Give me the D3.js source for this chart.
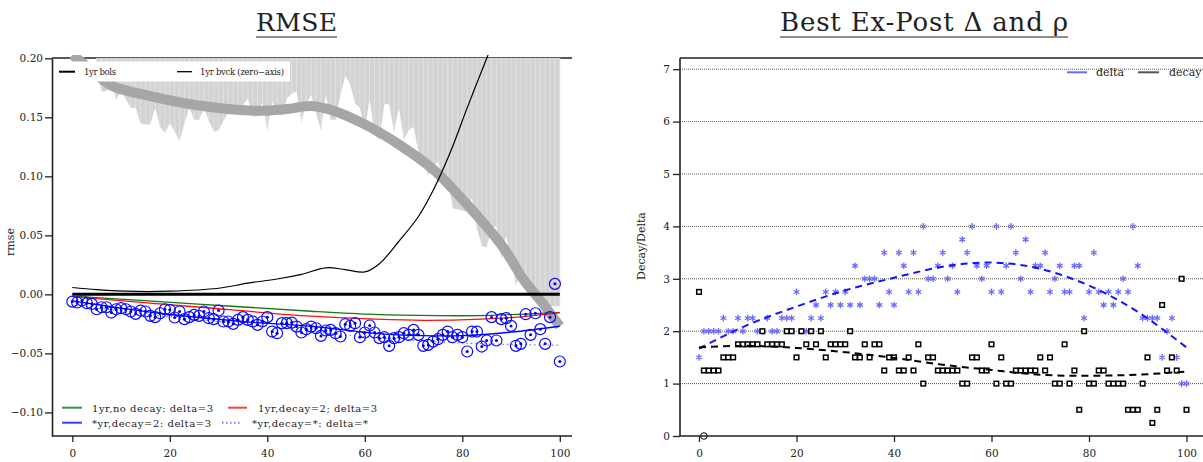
<!DOCTYPE html>
<html><head><meta charset="utf-8">
<script src="https://cdn.jsdelivr.net/npm/d3@7"></script>
<style>
body{margin:0;background:#fff}
svg{display:block}
text{font-family:"DejaVu Serif",serif;fill:#222}
</style>
</head><body><svg id="c" width="1203" height="462"></svg>
<script>
// ---------------- DATA ----------------
const horizon = d3.range(0, 101);               // x categories 0..100
const xTicks = [0, 20, 40, 60, 80, 100];
const rmseTicks = [-0.10, -0.05, 0.00, 0.05, 0.10, 0.15, 0.20];
const paramTicks = [0, 1, 2, 3, 4, 5, 6, 7];

// star-yr rmse points (blue circles)
const starYrRmse = [
 -0.0061,-0.0069,-0.0052,-0.0075,-0.0081,-0.0126,-0.0109,-0.0109,-0.0154,-0.0126,
 -0.0117,-0.0126,-0.0145,-0.0165,-0.0137,-0.0145,-0.0182,-0.0193,-0.0160,-0.0126,
 -0.0131,-0.0196,-0.0145,-0.0210,-0.0193,-0.0174,-0.0182,-0.0145,-0.0202,-0.0210,
 -0.0137,-0.0230,-0.0230,-0.0250,-0.0216,-0.0193,-0.0216,-0.0230,-0.0258,-0.0230,
 -0.0193,-0.0315,-0.0329,-0.0244,-0.0244,-0.0239,-0.0273,-0.0323,-0.0295,-0.0273,
 -0.0287,-0.0352,-0.0306,-0.0301,-0.0329,-0.0357,-0.0253,-0.0267,-0.0244,-0.0363,
 -0.0323,-0.0264,-0.0323,-0.0371,-0.0363,-0.0436,-0.0371,-0.0363,-0.0329,-0.0343,
 -0.0301,-0.0343,-0.0436,-0.0428,-0.0400,-0.0380,-0.0343,-0.0315,-0.0363,-0.0343,
 -0.0363,-0.0484,-0.0315,-0.0315,-0.0442,-0.0391,-0.0193,-0.0391,-0.0210,-0.0202,
 -0.0267,-0.0436,-0.0419,-0.0168,-0.0343,-0.0160,-0.0295,-0.0419,-0.0193, 0.0089,
 -0.0569];

// 1yr bvck band (shaded, hangs from top)
const bandX = d3.range(5, 101);
const bandV = [
 0.190,0.172,0.172,0.179,0.165,0.172,0.165,0.158,0.158,0.145,0.144,0.144,0.158,0.142,0.137,
 0.145,0.138,0.130,0.145,0.158,0.148,0.148,0.158,0.147,0.138,0.139,0.147,0.154,0.155,0.155,
 0.160,0.166,0.151,0.151,0.163,0.139,0.163,0.157,0.151,0.166,0.170,0.172,0.146,0.162,0.169,
 0.154,0.139,0.169,0.148,0.148,0.169,0.185,0.178,0.162,0.158,0.139,0.166,0.135,0.131,0.161,
 0.161,0.138,0.158,0.131,0.139,0.142,0.121,0.111,0.101,0.107,0.113,0.098,0.100,0.073,0.072,
 0.071,0.070,0.082,0.056,0.041,0.040,0.056,0.058,0.031,0.050,0.030,0.008,0.017,0.019,0.005,
 0.000,-0.005,-0.008,-0.010,-0.010,-0.010];

// thick gray smooth line
const grayX = [0,4,8,16,26,38,44,49,54,60,67,74,81,88,93,96,100];
const grayV = [0.203,0.19,0.177,0.168,0.16,0.1555,0.157,0.1595,0.155,0.144,0.127,0.106,0.076,0.042,0.01,-0.005,-0.027];

// thin black curve (1yr bvck)
const bvckX = [0,5,13,20,30,36,42,47,52,56,60,63,67,71,74,77.5,81,85.3,88];
const bvckV = [0.0058,0.004,0.0025,0.0027,0.0052,0.0095,0.013,0.017,0.0225,0.021,0.019,0.026,0.045,0.066,0.088,0.12,0.158,0.203,0.23];

// smooth fits
const greenX = [0,25,49,62,75,83,100];
const greenV = [-0.0015,-0.008,-0.0143,-0.017,-0.018,-0.018,-0.0155];
const redX = [0,25,49,62,72,84,92,100];
const redV = [-0.002,-0.0105,-0.0185,-0.021,-0.022,-0.021,-0.019,-0.0155];
const blueX = [0,18,38,49,62,72,80,90,100];
const blueV = [-0.0055,-0.016,-0.024,-0.027,-0.033,-0.035,-0.035,-0.032,-0.027];
const dotX = [0,20,40,55,70,85,100];
const dotV = [-0.009,-0.019,-0.027,-0.034,-0.039,-0.042,-0.043];

// right panel
const deltaVals = [
 1.5,2,2,2,2,2.25,2,2,2.25,2, 2.25,2.25,2,2,2.25,2,2,2.25,2.25,2.25,
 2.75,2,2,2.25,2.5,2.25,2.75,2.5,2.75,2.5, 2.75,2.5,3.25,2.5,3,3,3,2.5,3.5,2.75,
 2.5,3.5,3.25,2.75,3.5,2.75,4,3,3,3.25, 3.5,3,3.25,2.75,3.75,3.5,4,3.25,3,3.25,
 2.75,4,2.75,3.25,4,3.5,3,3.75,2.75,3.25, 3.25,3.5,2.75,3,3.25,2.75,2.75,3.25,3.25,2.25,
 2.75,3.5,2.75,2.5,2.75,2.5,2.75,3,2.75,4, 3.25,2.25,2.25,2.25,2.25,1.5,2,2.25,1.5,1,1];
const decayVals = [
 2.75,1.25,1.25,1.25,1.25,1.5,1.5,1.5,1.75,1.75, 1.75,1.75,1.75,2,1.75,1.75,1.75,1.75,2,2,
 1.5,2,1.75,2,1.75,2,1.5,1.75,1.75,1.75, 1.75,2,1.5,1.5,1.75,1.5,1.75,1.75,1.25,1.5,
 1.5,1.25,1.25,1.5,1.25,1.75,1,1.5,1.5,1.25, 1.25,1.25,1.25,1.25,1,1,1.5,1.5,1.25,1.25,
 1.75,1,1.5,1,1,1.25,1.25,1.25,1.25,1.25, 1.5,1.25,1.5,1,1,1.75,1,1.25,0.5,2,
 1,1,1.25,1.25,1,1,1,1,0.5,0.5, 0.5,1,1.5,0.25,0.5,2.5,1.25,1.5,1.25,3,0.5];
const extraX = [1], extraV = [0];
const fitX = [0,10,20,30,40,50,60,70,80,90,100];
const deltaFit = [1.67,2.12,2.47,2.78,3.02,3.23,3.31,3.19,2.87,2.37,1.69];
const decayFit = [1.69,1.72,1.68,1.60,1.49,1.36,1.26,1.17,1.15,1.17,1.23];

// ---------------- DRAW ----------------
const svg = d3.select("#c");
const FS = "10.5px";

// ===== LEFT PANEL =====
const L = {l:52, r:572, t:58, b:436};
const xL = d3.scaleLinear().domain([0,100]).range([72.3,559.8]);
const yL = d3.scaleLinear().domain([-0.12,0.2]).range([436,58.3]);

svg.append("defs").append("clipPath").attr("id","clipL")
  .append("rect").attr("x",L.l).attr("y",55).attr("width",L.r-L.l).attr("height",L.b-55);

svg.append("line").attr("x1",L.l).attr("x2",L.r).attr("y1",L.t).attr("y2",L.t)
  .attr("stroke","#222").attr("stroke-width",1.3);

const pL = svg.append("g").attr("clip-path","url(#clipL)");
pL.append("path").datum(bandX)
  .attr("d", d3.area().x(d=>xL(d)).y0(L.t).y1((d,i)=>yL(bandV[i])))
  .attr("fill","#d3d3d3");
pL.selectAll("line.stripe").data(bandX).join("line").attr("class","stripe")
  .attr("x1",d=>xL(d)).attr("x2",d=>xL(d)).attr("y1",L.t).attr("y2",(d,i)=>yL(bandV[i]))
  .attr("stroke","#e2e2e2").attr("stroke-width",0.9);
const ln = (xs,vs)=>d3.line().x((d,i)=>xL(xs[i])).y((d,i)=>yL(vs[i])).curve(d3.curveCatmullRom)(xs);
pL.append("path").attr("d",ln(grayX,grayV)).attr("fill","none")
  .attr("stroke","#a6a6a6").attr("stroke-width",10);

// top legend box
const tl = svg.append("g");
tl.append("rect").attr("x",53).attr("y",61.5).attr("width",237).attr("height",20).attr("fill","#fff");
tl.append("line").attr("x1",59).attr("x2",75).attr("y1",71.7).attr("y2",71.7).attr("stroke","#000").attr("stroke-width",2);
tl.append("text").attr("x",84).attr("y",74.5).attr("font-size","8.5px").attr("textLength",32).text("1yr bols");
tl.append("line").attr("x1",177).attr("x2",192).attr("y1",71.7).attr("y2",71.7).attr("stroke","#000").attr("stroke-width",1.3);
tl.append("text").attr("x",200).attr("y",74.5).attr("font-size","8.5px").attr("textLength",84).text("1yr bvck (zero\u2212axis)");

pL.append("path").attr("d",ln(bvckX,bvckV)).attr("fill","none").attr("stroke","#000").attr("stroke-width",1.2);
pL.append("line").attr("x1",xL(0)).attr("x2",xL(100)).attr("y1",yL(0)).attr("y2",yL(0))
  .attr("stroke","#000").attr("stroke-width",3);
pL.append("path").attr("d",ln(dotX,dotV)).attr("fill","none").attr("stroke","#7a7aff").attr("stroke-width",1.2).attr("stroke-dasharray","1.5,3");
pL.append("path").attr("d",ln(greenX,greenV)).attr("fill","none").attr("stroke","#167516").attr("stroke-width",1.3);
pL.append("path").attr("d",ln(redX,redV)).attr("fill","none").attr("stroke","#ff1010").attr("stroke-width",1.3);
pL.append("path").attr("d",ln(blueX,blueV)).attr("fill","none").attr("stroke","#0000ff").attr("stroke-width",1.3);
pL.selectAll("circle.pt").data(horizon).join("circle").attr("class","pt")
  .attr("cx",d=>xL(d)).attr("cy",(d,i)=>yL(starYrRmse[i])).attr("r",5.5)
  .attr("fill","none").attr("stroke","#0a0aff").attr("stroke-width",1.2);
pL.selectAll("circle.ctr").data(horizon).join("circle").attr("class","ctr")
  .attr("cx",d=>xL(d)).attr("cy",(d,i)=>yL(starYrRmse[i])).attr("r",1.5)
  .attr("fill","#0000cc");

const axLy = svg.append("g").attr("transform",`translate(${L.l},0)`)
  .call(d3.axisLeft(yL).tickValues(rmseTicks).tickSize(7).tickSizeOuter(0).tickPadding(2).tickFormat(d3.format(".2f")));
const axLx = svg.append("g").attr("transform",`translate(0,${L.b})`)
  .call(d3.axisBottom(xL).tickValues(xTicks).tickSize(6).tickPadding(8).tickFormat(d3.format("d")));
axLx.select(".domain").remove();
svg.append("line").attr("x1",L.l).attr("x2",L.r).attr("y1",L.b).attr("y2",L.b).attr("stroke","#222").attr("stroke-width",1.6);

const bl = svg.append("g");
const leg = [
  {x1:62,x2:82,y:407.7,col:"#3f933f",dash:null,tx:92,tl:121,t:"1yr,no decay: delta=3"},
  {x1:228,x2:247,y:407.7,col:"#ff4040",dash:null,tx:258,tl:119,t:"1yr,decay=2; delta=3"},
  {x1:62,x2:82,y:422.7,col:"#3c3cff",dash:null,tx:92,tl:119,t:"*yr,decay=2: delta=3"},
  {x1:222,x2:240,y:422.7,col:"#7a7aff",dash:"1.5,2.5",tx:252,tl:116,t:"*yr,decay=*: delta=*"}
];
leg.forEach(e=>{
  bl.append("line").attr("x1",e.x1).attr("x2",e.x2).attr("y1",e.y).attr("y2",e.y)
    .attr("stroke",e.col).attr("stroke-width",2).attr("stroke-dasharray",e.dash);
  bl.append("text").attr("x",e.tx).attr("y",e.y+3.8).attr("font-size","10px").attr("textLength",e.tl).text(e.t);
});

svg.append("text").attr("x",256).attr("y",31).attr("font-size","25px").attr("textLength",81).text("RMSE");
svg.append("line").attr("x1",256).attr("x2",337).attr("y1",37).attr("y2",37).attr("stroke","#222").attr("stroke-width",1.2);
svg.append("text").attr("transform","translate(14,242) rotate(-90)").attr("text-anchor","middle").attr("font-size","11px").text("rmse");

// ===== RIGHT PANEL =====
const R = {l:680, r:1203, t:58, b:436};
const xR = d3.scaleLinear().domain([0,100]).range([699,1186.5]);
const yR = d3.scaleLinear().domain([0,7]).range([436,69.2]);

svg.append("line").attr("x1",R.l).attr("x2",R.r).attr("y1",R.t).attr("y2",R.t).attr("stroke","#222").attr("stroke-width",1.3);
svg.selectAll("line.grid").data(paramTicks.slice(1)).join("line").attr("class","grid")
  .attr("x1",R.l).attr("x2",R.r).attr("y1",d=>yR(d)).attr("y2",d=>yR(d))
  .attr("stroke","#555").attr("stroke-width",1).attr("stroke-dasharray","1,1");

const pR = svg.append("g");
const lnR = (vs)=>d3.line().x((d,i)=>xR(fitX[i])).y((d,i)=>yR(vs[i])).curve(d3.curveNatural)(fitX);
const ast = (r)=>{let p="";for(let a=0;a<3;a++){const t=Math.PI/2+a*Math.PI/3;const dx=r*Math.cos(t),dy=r*Math.sin(t);p+=`M${-dx},${-dy}L${dx},${dy}`;}return p;};
pR.selectAll("path.delta").data(horizon).join("path").attr("class","delta")
  .attr("transform",(d,i)=>`translate(${xR(d)},${yR(deltaVals[i])})`)
  .attr("d",ast(3.3)).attr("stroke","#6a6aff").attr("stroke-width",1.3).attr("fill","none");
pR.selectAll("rect.decay").data(horizon).join("rect").attr("class","decay")
  .attr("x",d=>xR(d)-2.3).attr("y",(d,i)=>yR(decayVals[i])-2.3).attr("width",4.6).attr("height",4.6)
  .attr("fill","#fff").attr("stroke","#000").attr("stroke-width",1.5);
pR.selectAll("circle.extra").data(extraX).join("circle").attr("class","extra")
  .attr("cx",d=>xR(d)).attr("cy",(d,i)=>yR(extraV[i])).attr("r",3.3)
  .attr("fill","none").attr("stroke","#000").attr("stroke-width",1);
pR.append("path").attr("d",lnR(deltaFit)).attr("fill","none").attr("stroke","#1414ff").attr("stroke-width",2).attr("stroke-dasharray","7,5");
pR.append("path").attr("d",lnR(decayFit)).attr("fill","none").attr("stroke","#000").attr("stroke-width",2).attr("stroke-dasharray","7,5");

const axRy = svg.append("g").attr("transform",`translate(${R.l},0)`)
  .call(d3.axisLeft(yR).tickValues(paramTicks).tickSize(7).tickSizeOuter(0).tickPadding(3).tickFormat(d3.format("d")));
axRy.select(".domain").remove();
svg.append("line").attr("x1",R.l).attr("x2",R.l).attr("y1",R.t).attr("y2",R.b).attr("stroke","#222").attr("stroke-width",1.6);
const axRx = svg.append("g").attr("transform",`translate(0,${R.b})`)
  .call(d3.axisBottom(xR).tickValues(xTicks).tickSize(6).tickPadding(8).tickFormat(d3.format("d")));
axRx.select(".domain").remove();
svg.append("line").attr("x1",R.l).attr("x2",R.r).attr("y1",R.b).attr("y2",R.b).attr("stroke","#222").attr("stroke-width",1.6);

svg.append("line").attr("x1",1067).attr("x2",1087).attr("y1",72.3).attr("y2",72.3).attr("stroke","#6a6aff").attr("stroke-width",2);
svg.append("text").attr("x",1096).attr("y",75.8).attr("font-size","11px").text("delta");
svg.append("line").attr("x1",1138).attr("x2",1159).attr("y1",72.3).attr("y2",72.3).attr("stroke","#555").attr("stroke-width",2);
svg.append("text").attr("x",1169).attr("y",75.8).attr("font-size","11px").text("decay");

svg.append("text").attr("x",780).attr("y",31).attr("font-size","26px").attr("textLength",288).text("Best Ex-Post \u0394 and \u03C1");
svg.append("line").attr("x1",780).attr("x2",1068).attr("y1",37).attr("y2",37).attr("stroke","#222").attr("stroke-width",1.2);
svg.append("text").attr("transform","translate(645,246) rotate(-90)").attr("text-anchor","middle").attr("font-size","11px").text("Decay/Delta");

svg.selectAll(".tick text").attr("font-family","DejaVu Serif, serif").attr("font-size",FS).attr("fill","#222");
svg.selectAll(".tick line").attr("stroke","#222").attr("stroke-width",1.3);
svg.selectAll(".domain").attr("stroke","#222").attr("stroke-width",1.6);
</script></body></html>
